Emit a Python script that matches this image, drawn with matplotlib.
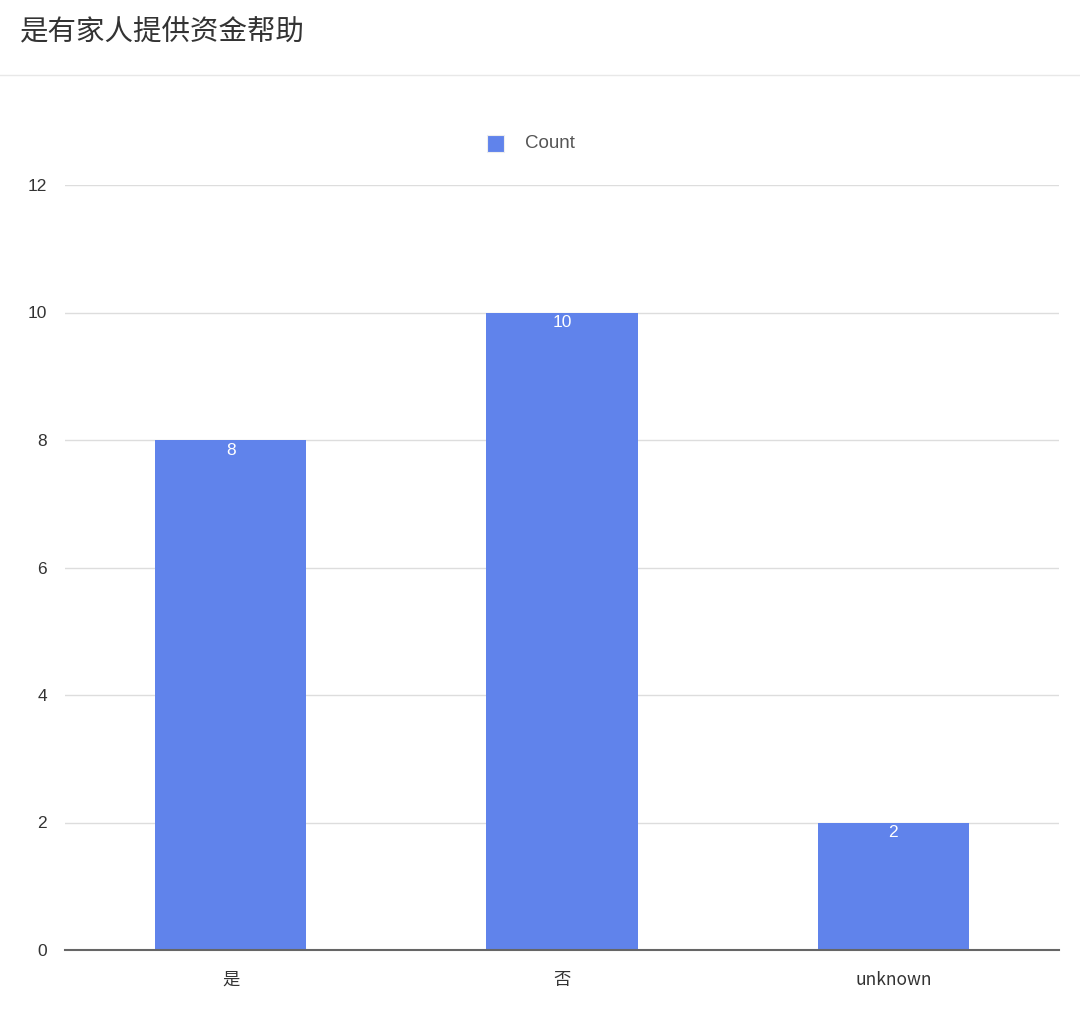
import matplotlib.pyplot as plt
from matplotlib.patches import Rectangle
from matplotlib.lines import Line2D

plt.rcParams['font.family'] = ['Liberation Sans', 'Noto Sans CJK SC', 'DejaVu Sans']

# data
categories = ['是', '否', 'unknown']
counts = [8, 10, 2]
title = '是有家人提供资金帮助'
series_name = 'Count'

bar_color = '#6083eb'
text_color = '#333333'

fig = plt.figure(figsize=(10.8, 10.19), dpi=100)
ax = fig.add_axes([65 / 1080, 69 / 1019, 994 / 1080, 765 / 1019])

x = range(len(categories))
bars = ax.bar(x, counts, width=0.456, color=bar_color, zorder=3)

# value labels inside bar tops
for rect, v in zip(bars, counts):
    ax.annotate(str(v), (rect.get_x() + rect.get_width() / 2, rect.get_height()),
                xytext=(0, -2), textcoords='offset points', ha='center', va='top',
                color='white', fontsize=12.5, zorder=4)

ax.set_xlim(-0.5, len(categories) - 0.5)
ax.set_ylim(0, 12)
ax.set_yticks(range(0, 13, 2))
ax.set_xticks(list(x))
ax.set_xticklabels(categories, fontfamily=['Noto Sans CJK SC', 'Liberation Sans'])
ax.tick_params(axis='both', length=0, labelsize=12.5, labelcolor=text_color)
ax.tick_params(axis='x', pad=15)
ax.tick_params(axis='y', pad=13)

ax.grid(axis='y', color='#dddddd', linewidth=1, zorder=0)
for s in ['top', 'right', 'left']:
    ax.spines[s].set_visible(False)
ax.spines['bottom'].set_color('#666666')
ax.spines['bottom'].set_linewidth(1.5)
ax.spines['bottom'].set_zorder(5)

# header
fig.text(20 / 1080, 1 - 31 / 1019, title, fontsize=20.5, color=text_color,
         ha='left', va='center', fontfamily=['Noto Sans CJK SC'])
fig.add_artist(Line2D([0, 1], [1 - 75 / 1019] * 2, color='#e8e8e8', linewidth=1))

# legend
fig.add_artist(Rectangle((487 / 1080, 1 - 152 / 1019), 17 / 1080, 17 / 1019,
                         facecolor=bar_color, edgecolor='#eeeeee', linewidth=0.8,
                         transform=fig.transFigure))
fig.text(525 / 1080, 1 - 144 / 1019, series_name, fontsize=13.5, color='#555555',
         ha='left', va='center')

fig.savefig('out.png', dpi=100, facecolor='white')
